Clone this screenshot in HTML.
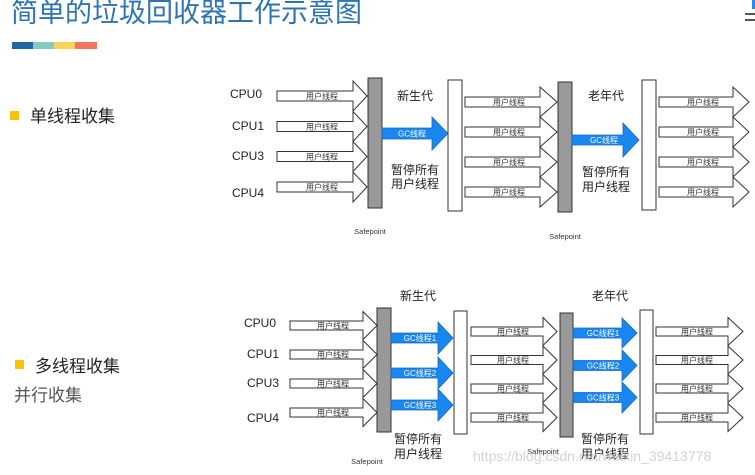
<!DOCTYPE html>
<html><head><meta charset="utf-8"><style>
html,body{margin:0;padding:0;background:#fff;width:755px;height:475px;overflow:hidden}
svg{display:block}
</style></head><body>
<svg width="755" height="475" viewBox="0 0 755 475" xmlns="http://www.w3.org/2000/svg" font-family="Liberation Sans, Noto Sans CJK SC, sans-serif">
<text x="11" y="22" font-size="27" fill="#2e74b5">简单的垃圾回收器工作示意图</text>
<rect x="12" y="42" width="21" height="7" fill="#1f6aa5"/><rect x="33" y="42" width="21" height="7" fill="#84cbc1"/><rect x="54" y="42" width="21" height="7" fill="#f8d35e"/><rect x="75" y="42" width="22" height="7" fill="#f47560"/>
<rect x="745" y="13" width="10" height="2" fill="#555"/><rect x="745" y="19" width="10" height="2" fill="#555"/><rect x="752" y="0" width="3" height="9" fill="#2e8ae6"/>
<rect x="10" y="111" width="9" height="9" fill="#ffc000"/><text x="30" y="122" font-size="17" fill="#222">单线程收集</text>
<rect x="15" y="360" width="9" height="9" fill="#ffc000"/><text x="35" y="372" font-size="17" fill="#222">多线程收集</text>
<text x="14" y="401" font-size="17" fill="#555">并行收集</text>

<g fill="#fff" stroke="#333" stroke-width="1">
<!-- top col1 -->
<polygon points="277,91 353,91 353,81 367,96 353,111 353,101 277,101"/>
<polygon points="277,121.5 353,121.5 353,111.5 367,126.5 353,141.5 353,131.5 277,131.5"/>
<polygon points="277,151.5 353,151.5 353,141.5 367,156.5 353,171.5 353,161.5 277,161.5"/>
<polygon points="277,182 353,182 353,172 367,187 353,202 353,192 277,192"/>
<!-- top col2 -->
<polygon points="465,97 540,97 540,87 557,102 540,117 540,107 465,107"/>
<polygon points="465,127 540,127 540,117 557,132 540,147 540,137 465,137"/>
<polygon points="465,157 540,157 540,147 557,162 540,177 540,167 465,167"/>
<polygon points="465,187 540,187 540,177 557,192 540,207 540,197 465,197"/>
<!-- top col3 -->
<polygon points="659,97 733,97 733,87 749,102 733,117 733,107 659,107"/>
<polygon points="659,127 733,127 733,117 749,132 733,147 733,137 659,137"/>
<polygon points="659,157 733,157 733,147 749,162 733,177 733,167 659,167"/>
<polygon points="659,187 733,187 733,177 749,192 733,207 733,197 659,197"/>
<!-- bottom col1 -->
<polygon points="290,321 363,321 363,311.5 377,325.5 363,339.5 363,330 290,330"/>
<polygon points="290,350 363,350 363,340.5 377,354.5 363,368.5 363,359 290,359"/>
<polygon points="290,379 363,379 363,369.5 377,383.5 363,397.5 363,388 290,388"/>
<polygon points="290,408 363,408 363,398.5 377,412.5 363,426.5 363,417 290,417"/>
<!-- bottom col2 -->
<polygon points="471,327 543,327 543,317.5 557,331.5 543,345.5 543,336 471,336"/>
<polygon points="471,355.5 543,355.5 543,346 557,360 543,374 543,364.5 471,364.5"/>
<polygon points="471,384 543,384 543,374.5 557,388.5 543,402.5 543,393 471,393"/>
<polygon points="471,413 543,413 543,403.5 557,417.5 543,431.5 543,422 471,422"/>
<!-- bottom col3 -->
<polygon points="656,327 728,327 728,317.5 743,331.5 728,345.5 728,336 656,336"/>
<polygon points="656,355.5 728,355.5 728,346 743,360 728,374 728,364.5 656,364.5"/>
<polygon points="656,384 728,384 728,374.5 743,388.5 728,402.5 728,393 656,393"/>
<polygon points="656,413 728,413 728,403.5 743,417.5 728,431.5 728,422 656,422"/>
<!-- white bars -->
<rect x="448" y="80" width="14" height="131"/>
<rect x="642" y="80" width="14" height="130"/>
<rect x="454" y="311" width="13" height="123"/>
<rect x="640" y="310" width="13" height="124"/>
</g>
<g fill="#999" stroke="#333" stroke-width="1">
<rect x="368" y="78" width="14" height="130"/>
<rect x="558" y="82" width="14" height="130"/>
<rect x="377" y="308" width="14" height="124"/>
<rect x="560" y="313" width="13" height="124"/>
</g>
<g fill="#1a86f0" stroke="#1565c0" stroke-width="0.8">
<polygon points="382,128 432,128 432,117 448,133.5 432,150 432,139 382,139"/>
<polygon points="572,135 623,135 623,123 639,140 623,157 623,145 572,145"/>
<polygon points="391,333 438,333 438,322 453,338 438,354 438,343 391,343"/>
<polygon points="391,368 438,368 438,357 453,373 438,389 438,378 391,378"/>
<polygon points="391,400 438,400 438,389 453,405 438,421 438,410 391,410"/>
<polygon points="573,328 622,328 622,318 637,333 622,348 622,338 573,338"/>
<polygon points="573,360.5 622,360.5 622,350 637,365.5 622,381 622,370.5 573,370.5"/>
<polygon points="573,392.5 622,392.5 622,382 637,397.5 622,413 622,402.5 573,402.5"/>
</g>
<g font-size="8" fill="#333" text-anchor="middle">
<text x="322" y="99">用户线程</text><text x="322" y="129.5">用户线程</text><text x="322" y="159.5">用户线程</text><text x="322" y="190">用户线程</text>
<text x="509" y="105">用户线程</text><text x="509" y="135">用户线程</text><text x="509" y="165">用户线程</text><text x="509" y="195">用户线程</text>
<text x="703" y="105">用户线程</text><text x="703" y="135">用户线程</text><text x="703" y="165">用户线程</text><text x="703" y="195">用户线程</text>
<text x="333" y="328.5">用户线程</text><text x="333" y="357.5">用户线程</text><text x="333" y="386.5">用户线程</text><text x="333" y="415.5">用户线程</text>
<text x="513" y="334.5">用户线程</text><text x="513" y="363">用户线程</text><text x="513" y="391.5">用户线程</text><text x="513" y="420.5">用户线程</text>
<text x="697" y="334.5">用户线程</text><text x="697" y="363">用户线程</text><text x="697" y="391.5">用户线程</text><text x="697" y="420.5">用户线程</text>
</g>
<g font-size="8" fill="#fff" text-anchor="middle">
<text x="412" y="136.5">GC线程</text><text x="604" y="143">GC线程</text>
<text x="420" y="341">GC线程1</text><text x="420" y="376">GC线程2</text><text x="420" y="408">GC线程3</text>
<text x="603" y="336">GC线程1</text><text x="603" y="368.5">GC线程2</text><text x="603" y="400.5">GC线程3</text>
</g>
<g font-size="12" fill="#222">
<text x="230" y="98">CPU0</text><text x="232" y="130">CPU1</text><text x="232" y="160">CPU3</text><text x="232" y="197">CPU4</text>
<text x="244" y="327">CPU0</text><text x="247" y="358">CPU1</text><text x="247" y="387">CPU3</text><text x="247" y="422">CPU4</text>
</g>
<g font-size="12" fill="#222" text-anchor="middle">
<text x="415" y="100">新生代</text><text x="415" y="174">暂停所有</text><text x="415" y="188">用户线程</text>
<text x="606" y="100">老年代</text><text x="606" y="176">暂停所有</text><text x="606" y="191">用户线程</text>
<text x="418" y="300">新生代</text><text x="418" y="443">暂停所有</text><text x="418" y="458">用户线程</text>
<text x="610" y="300">老年代</text><text x="605" y="443">暂停所有</text><text x="605" y="458">用户线程</text>
</g>
<g font-size="7.5" fill="#333" text-anchor="middle">
<text x="370" y="234">Safepoint</text><text x="565" y="239">Safepoint</text>
<text x="367" y="464">Safepoint</text><text x="543" y="454">Safepoint</text>
</g>
<text x="473" y="461" font-size="14" fill="#c8c8c8" fill-opacity="0.8">https://blog.csdn.net/weixin_39413778</text>
</svg>
</body></html>
